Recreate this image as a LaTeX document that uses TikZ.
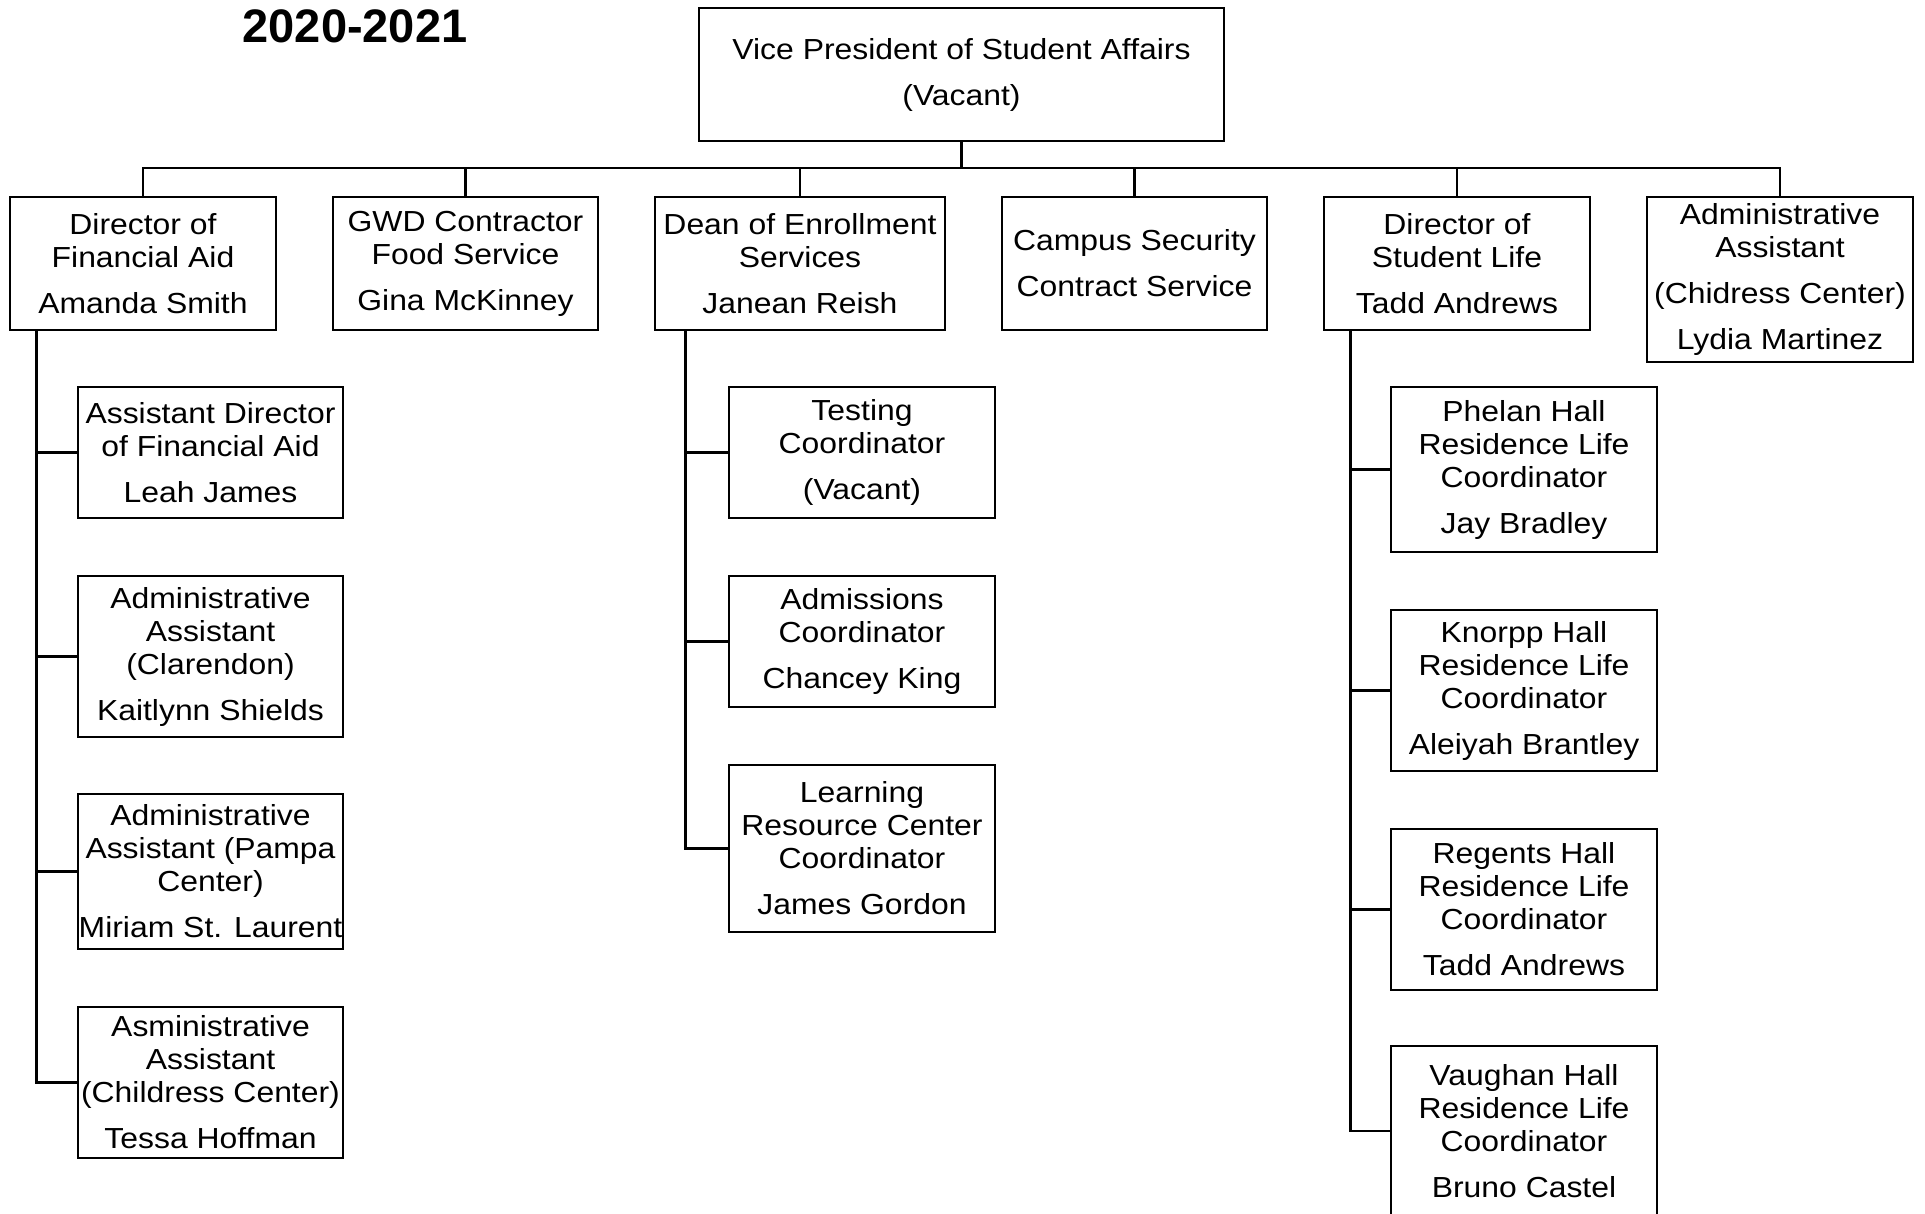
\documentclass[tikz,border=0pt]{standalone}
\usepackage{fontspec}
\setmainfont{Liberation Sans}[FakeStretch=1.1]
\newfontfamily\titlefont{Liberation Sans}
\begin{document}
\begin{tikzpicture}[x=1pt,y=-1pt,
  box/.style={draw, line width=2.7pt, inner sep=0pt, align=center,
    font=\fontsize{29}{33}\selectfont},
  link/.style={line width=2.8pt}]
\useasboundingbox (0,0) rectangle (1925,1213);
\clip (0,0) rectangle (1925,1213);
\fill[white] (0,0) rectangle (1925,1213);
\def\gap{\\[13pt]}
\node[anchor=base, font=\titlefont\bfseries\fontsize{47}{50}\selectfont] (title) at (355,42) {2020-2021};
% top
\node[box, minimum width=525, minimum height=133] (vp) at (961.5,74.5) {Vice President of Student Affairs\gap (Vacant)};
% level 1
\node[box, minimum width=266, minimum height=133] (b1) at (143,263.5) {Director of\\Financial Aid\gap Amanda Smith};
\node[box, minimum width=265, minimum height=133] (b2) at (465.5,263.5) {GWD Contractor\\Food Service\gap Gina McKinney};
\node[box, minimum width=290, minimum height=133] (b3) at (800,263.5) {Dean of Enrollment\\Services\gap Janean Reish};
\node[box, minimum width=265, minimum height=133] (b4) at (1134.5,263.5) {Campus Security\gap Contract Service};
\node[box, minimum width=266, minimum height=133] (b5) at (1457,263.5) {Director of\\Student Life\gap Tadd Andrews};
\node[box, minimum width=266, minimum height=165] (b6) at (1780,279.5) {Administrative\\Assistant\gap (Chidress Center)\gap Lydia Martinez};
% column 1
\node[box, minimum width=265, minimum height=131] (s11) at (210.5,452.5) {Assistant Director\\of Financial Aid\gap Leah James};
\node[box, minimum width=265, minimum height=161] (s12) at (210.5,656.5) {Administrative\\Assistant\\(Clarendon)\gap Kaitlynn Shields};
\node[box, minimum width=265, minimum height=155] (s13) at (210.5,871.5) {Administrative\\Assistant (Pampa\\Center)\gap Miriam St. Laurent};
\node[box, minimum width=265, minimum height=151] (s14) at (210.5,1082.5) {Asministrative\\Assistant\\(Childress Center)\gap Tessa Hoffman};
% column 3
\node[box, minimum width=266, minimum height=131] (s31) at (862,452.5) {Testing\\Coordinator\gap (Vacant)};
\node[box, minimum width=266, minimum height=131] (s32) at (862,641.5) {Admissions\\Coordinator\gap Chancey King};
\node[box, minimum width=266, minimum height=167] (s33) at (862,848.5) {Learning\\Resource Center\\Coordinator\gap James Gordon};
% column 5
\node[box, minimum width=266, minimum height=165] (s51) at (1524,469.5) {Phelan Hall\\Residence Life\\Coordinator\gap Jay Bradley};
\node[box, minimum width=266, minimum height=161] (s52) at (1524,690.5) {Knorpp Hall\\Residence Life\\Coordinator\gap Aleiyah Brantley};
\node[box, minimum width=266, minimum height=161] (s53) at (1524,909.5) {Regents Hall\\Residence Life\\Coordinator\gap Tadd Andrews};
\node[box, minimum width=266, minimum height=170] (s54) at (1524,1131) {Vaughan Hall\\Residence Life\\Coordinator\gap Bruno Castel};
% bus
\coordinate (bus) at (961.5,168);
\draw[line width=3.8pt] (vp.south) -- (bus);
\draw[link] (b1.north) -- (b1.north |- bus) -- (b6.north |- bus) -- (b6.north);
\foreach \n in {b2,b3,b4,b5} \draw[link] (\n.north) -- (\n.north |- bus);
% trunks
\path (b1.south west) ++(28,0) coordinate (t1);
\path (b3.south west) ++(32,0) coordinate (t3);
\path (b5.south west) ++(28,0) coordinate (t5);
\draw[link] (t1) |- (s14.west);
\foreach \n in {s11,s12,s13} \draw[link] (\n.west) -- (\n.west -| t1);
\draw[link] (t3) |- (s33.west);
\foreach \n in {s31,s32} \draw[link] (\n.west) -- (\n.west -| t3);
\draw[link] (t5) |- (s54.west);
\foreach \n in {s51,s52,s53} \draw[link] (\n.west) -- (\n.west -| t5);
\end{tikzpicture}
\end{document}
